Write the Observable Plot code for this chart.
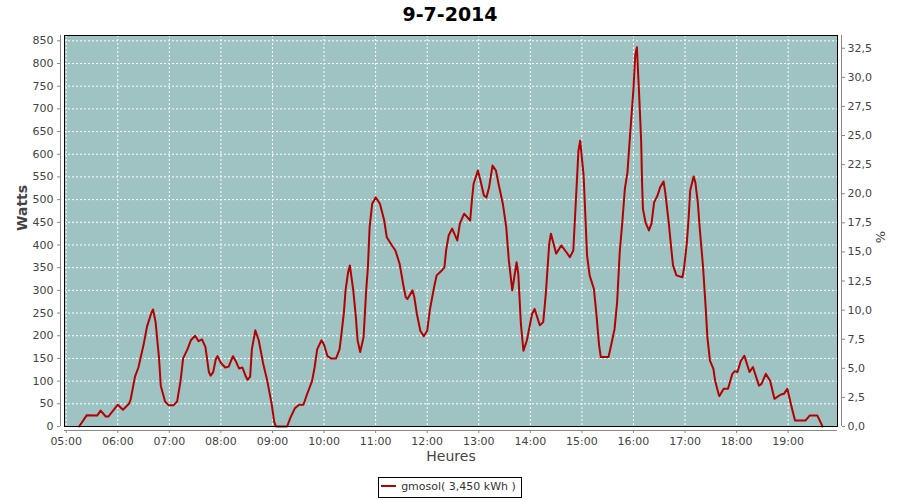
<!DOCTYPE html>
<html><head><meta charset="utf-8">
<script src="https://cdn.jsdelivr.net/npm/d3@7"></script>
<script src="https://cdn.jsdelivr.net/npm/@observablehq/plot@0.6"></script>
<style>
body{margin:0;background:#fff;font-family:"DejaVu Sans",sans-serif;width:900px;height:500px;overflow:hidden}
#title{height:30px;text-align:center;font-weight:bold;font-size:19px;line-height:29px;color:#000}
#chart{height:440px}
#legend{margin-top:7px;text-align:center;font-size:11px;color:#333}
#legend .box{display:inline-block;border:1px solid #000;padding:2px 5px 3px 2px;line-height:14px}
#legend .sw{display:inline-block;width:15px;height:2px;background:#b30000;vertical-align:middle;margin-right:5px;position:relative;top:-1px}
</style></head><body>
<div id="title">9-7-2014</div>
<div id="chart"></div>
<div id="legend"><span class="box"><span class="sw"></span>gmosol( 3,450 kWh )</span></div>
<script>
const times = ["05:15","05:24","05:36","05:40","05:46","05:49","06:00","06:06","06:13","06:15","06:20","06:24","06:30","06:34","06:39","06:41","06:44","06:48","06:50","06:55","06:59","07:05","07:09","07:13","07:16","07:21","07:25","07:30","07:34","07:38","07:42","07:46","07:48","07:51","07:54","07:56","08:00","08:05","08:09","08:14","08:17","08:21","08:25","08:29","08:31","08:34","08:36","08:40","08:44","08:49","08:54","08:59","09:02","09:04","09:17","09:21","09:26","09:31","09:36","09:40","09:46","09:49","09:52","09:57","10:00","10:04","10:08","10:14","10:18","10:20","10:23","10:25","10:28","10:30","10:34","10:37","10:39","10:42","10:46","10:49","10:51","10:53","10:56","11:00","11:05","11:10","11:13","11:19","11:23","11:28","11:32","11:35","11:37","11:43","11:45","11:48","11:52","11:56","12:00","12:03","12:08","12:11","12:17","12:20","12:22","12:25","12:29","12:35","12:38","12:43","12:50","12:52","12:54","12:59","13:02","13:06","13:09","13:12","13:16","13:20","13:23","13:28","13:32","13:35","13:39","13:44","13:46","13:49","13:52","13:56","14:02","14:05","14:11","14:15","14:18","14:22","14:24","14:30","14:36","14:42","14:46","14:50","14:53","14:56","14:58","15:02","15:04","15:06","15:09","15:14","15:17","15:20","15:22","15:31","15:34","15:38","15:41","15:44","15:47","15:50","15:53","15:56","16:00","16:02","16:04","16:05","16:07","16:09","16:10","16:11","16:14","16:18","16:21","16:24","16:28","16:31","16:35","16:37","16:41","16:44","16:46","16:50","16:57","16:59","17:02","17:04","17:06","17:10","17:12","17:15","17:17","17:21","17:24","17:26","17:29","17:33","17:35","17:39","17:40","17:45","17:50","17:55","17:58","18:01","18:05","18:09","18:15","18:19","18:26","18:29","18:34","18:39","18:44","18:51","18:55","18:59","19:04","19:08","19:20","19:25","19:34","19:40"];
const watts = [0,25,24,35,22,22,48,37,50,60,110,130,180,220,250,258,230,150,90,55,47,47,55,100,150,170,190,200,188,192,175,120,112,120,148,155,140,130,132,155,145,128,130,110,103,110,170,212,190,140,100,50,10,0,0,20,40,48,48,70,100,130,170,190,180,155,150,150,170,200,250,300,340,355,300,241,190,164,197,300,350,439,491,505,491,454,417,399,388,358,314,285,281,300,285,248,211,199,211,256,307,333,344,350,388,421,436,410,447,469,454,498,535,564,542,509,505,527,575,564,535,491,439,366,300,362,336,226,167,190,248,259,223,230,292,403,425,381,399,384,373,388,498,608,630,553,465,377,333,303,245,179,153,153,179,215,274,384,450,524,560,641,744,817,836,795,715,626,538,480,450,432,447,494,509,527,540,516,450,392,355,333,329,351,403,454,520,551,538,491,439,351,263,197,145,127,101,72,67,83,83,116,122,120,145,156,120,131,90,94,116,101,61,70,72,83,43,13,13,24,24,0];
const wattTicks = [0,50,100,150,200,250,300,350,400,450,500,550,600,650,700,750,800,850];
const percentTicks = [0,2.5,5,7.5,10,12.5,15,17.5,20,22.5,25,27.5,30,32.5];
const hourTicks = ["05:00","06:00","07:00","08:00","09:00","10:00","11:00","12:00","13:00","14:00","15:00","16:00","17:00","18:00","19:00"];
const xDomain = ["04:58","19:57:24"];
const yMax = 861.7;
const wattsPerPercent = 25.65;

const parse = s => { const [h, m, sec] = s.split(":").map(Number); return new Date(2014, 6, 9, h, m, sec || 0); };
const data = times.map((t, i) => ({t: parse(t), w: watts[i]}));
const fmt = d3.timeFormat("%H:%M");
const k = wattsPerPercent;
const grid = {stroke: "white", strokeOpacity: 1, strokeWidth: 1, strokeDasharray: "2,2"};
const axisColor = "#888";

const chart = Plot.plot({
  width: 900, height: 440,
  marginLeft: 64, marginRight: 63, marginTop: 5, marginBottom: 44,
  style: {fontFamily: "DejaVu Sans", fontSize: "11px", color: "#444", background: "white", overflow: "visible"},
  x: {type: "time", domain: xDomain.map(parse)},
  y: {domain: [0, yMax]},
  marks: [
    Plot.frame({fill: "#9ec3c2", stroke: null}),
    Plot.gridY(wattTicks, grid),
    Plot.gridX(hourTicks.map(parse), grid),
    Plot.line(data, {x: "t", y: "w", stroke: "#b30000", strokeWidth: 2}),
    Plot.frame({stroke: "#000", strokeWidth: 1}),
    Plot.ruleX([parse(xDomain[0])], {dx: -4, stroke: axisColor}),
    Plot.ruleX([parse(xDomain[1])], {dx: 4, stroke: axisColor}),
    Plot.ruleY([0], {dy: 4, stroke: axisColor}),
    Plot.axisY(wattTicks, {anchor: "left", dx: -4, tickSize: 3, tickPadding: 4, stroke: axisColor, fill: "#444", label: null}),
    Plot.axisY(percentTicks.map(p => p * k), {anchor: "right", dx: 4, tickSize: 3, tickPadding: 3, stroke: axisColor, fill: "#444", label: null,
      tickFormat: d => (d / k).toFixed(1).replace(".", ",")}),
    Plot.axisX(hourTicks.map(parse), {anchor: "bottom", dy: 4, tickSize: 3, tickPadding: 4, stroke: axisColor, fill: "#444", label: null, tickFormat: fmt}),
    Plot.text(["Watts"], {frameAnchor: "left", dx: -42, rotate: -90, fontWeight: "bold", fontSize: 14, fill: "#444"}),
    Plot.text(["%"], {frameAnchor: "right", dx: 43, rotate: -90, fontSize: 13, fill: "#444"}),
    Plot.text(["Heures"], {frameAnchor: "bottom", dy: 34, fontSize: 14, fill: "#444"})
  ]
});
document.getElementById("chart").appendChild(chart);
</script>
</body></html>
